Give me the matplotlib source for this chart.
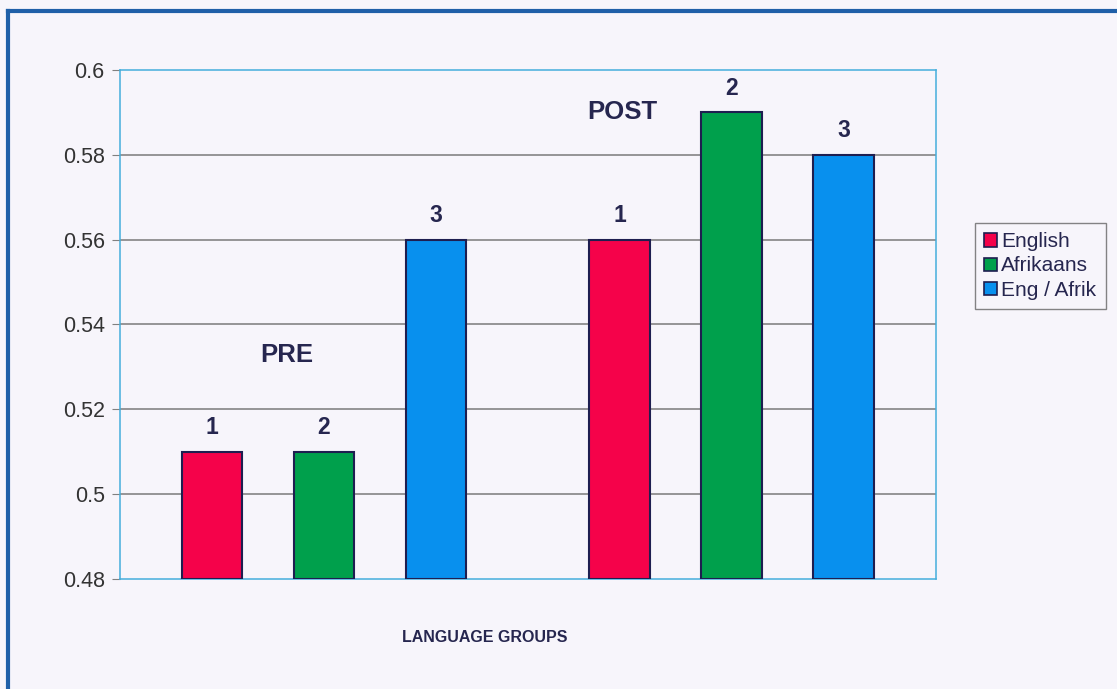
import matplotlib
matplotlib.use('Agg')
import matplotlib.pyplot as plt
from matplotlib.patches import Patch
from matplotlib.lines import Line2D

# data
series = ['English', 'Afrikaans', 'Eng / Afrik']
pre_values = [0.51, 0.51, 0.56]
post_values = [0.56, 0.59, 0.58]
bar_labels = ['1', '2', '3']
y_ticks = [0.48, 0.50, 0.52, 0.54, 0.56, 0.58, 0.60]
y_tick_labels = ['0.48', '0.5', '0.52', '0.54', '0.56', '0.58', '0.6']

colors = ['#F5024A', '#00A04C', '#0890EE']
edge = '#1E1E50'
text_col = '#26264F'
bg = '#F7F5FB'

plt.rcParams['font.family'] = ['Liberation Sans', 'DejaVu Sans']

fig = plt.figure(figsize=(11.17, 6.89), dpi=100, facecolor=bg)
ax = fig.add_axes([120 / 1117, 1 - 579 / 689, 816 / 1117, 509 / 689])
ax.set_facecolor(bg)

# slot positions of the bars
pre_x = [0.82, 1.82, 2.82]
post_x = [4.46, 5.46, 6.46]
width = 0.54

for xs, vals in [(pre_x, pre_values), (post_x, post_values)]:
    for i in range(3):
        ax.bar(xs[i], vals[i] - 0.48, bottom=0.48, width=width,
               color=colors[i], edgecolor=edge, linewidth=1.5, zorder=3)
        ax.annotate(bar_labels[i], (xs[i], vals[i]), xytext=(0, 9),
                    textcoords='offset points', ha='center', va='bottom',
                    fontsize=16.5, fontweight='bold', color=text_col)

ax.set_xlim(0, 816 / 112)
ax.set_ylim(0.48, 0.60)
ax.set_yticks(y_ticks)
ax.set_yticklabels(y_tick_labels, fontsize=15.5, color='#333333')
ax.set_xticks([])
ax.tick_params(axis='y', length=6, color='#808080', pad=5)

# gridlines
for y in y_ticks[1:-1]:
    ax.axhline(y, color='#7A7A7A', linewidth=1.1, zorder=1)

for s in ax.spines.values():
    s.set_color('#45AEDC')
    s.set_linewidth(1.1)

ax.text((287 - 120) / 816, (579 - 355) / 509, 'PRE', transform=ax.transAxes,
        ha='center', va='center', fontsize=18.5, fontweight='bold', color=text_col)
ax.text((622 - 120) / 816, (579 - 112) / 509, 'POST', transform=ax.transAxes,
        ha='center', va='center', fontsize=18.5, fontweight='bold', color=text_col)

fig.text(485 / 1117, 1 - 637 / 689, 'LANGUAGE GROUPS', ha='center', va='center',
         fontsize=11.5, fontweight='bold', color=text_col)

# legend
handles = [Patch(facecolor=c, edgecolor=edge, linewidth=1.2) for c in colors]
leg = fig.legend(handles, series, loc='center left',
                 bbox_to_anchor=(975 / 1117, 1 - 266 / 689),
                 fontsize=15, frameon=True, fancybox=False,
                 handlelength=0.6, handleheight=0.6, handletextpad=0.2,
                 labelspacing=0.25, borderpad=0.45, borderaxespad=0,
                 labelcolor='#26264F')
leg.get_frame().set_edgecolor('#666666')
leg.get_frame().set_facecolor(bg)
leg.get_frame().set_linewidth(1.0)

# outer chart border (left and top sides visible)
fig.add_artist(Line2D([8 / 1117, 8 / 1117], [0, 1 - 11 / 689],
                      transform=fig.transFigure, color='#1F5FA8', linewidth=3))
fig.add_artist(Line2D([8 / 1117, 1], [1 - 11 / 689, 1 - 11 / 689],
                      transform=fig.transFigure, color='#1F5FA8', linewidth=3))

fig.savefig('out.png', dpi=100, facecolor=bg)
